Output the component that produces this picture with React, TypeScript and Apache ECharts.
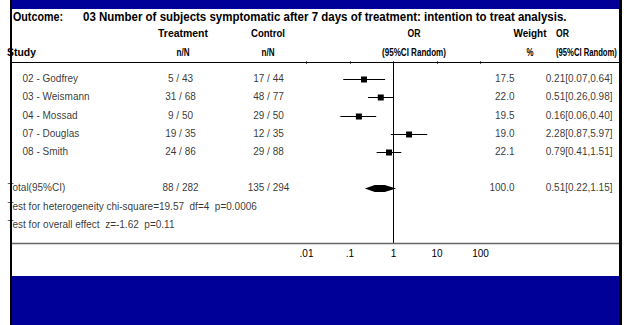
import React, { useEffect, useRef } from "react";
import * as echarts from "echarts";

const outcomeLabel = "Outcome:";
const outcomeTitle = "03 Number of subjects symptomatic after 7 days of treatment: intention to treat analysis.";
const studies = ["02 - Godfrey", "03 - Weismann", "04 - Mossad", "07 - Douglas", "08 - Smith"];
const treatEvents = [5, 31, 9, 19, 24];
const treatTotals = [43, 68, 50, 35, 86];
const ctrlEvents = [17, 48, 29, 12, 29];
const ctrlTotals = [44, 77, 50, 35, 88];
const weights = [17.5, 22.0, 19.5, 19.0, 22.1];
const oddsRatios = [0.21, 0.51, 0.16, 2.28, 0.79];
const ciLow = [0.07, 0.26, 0.06, 0.87, 0.41];
const ciHigh = [0.64, 0.98, 0.4, 5.97, 1.51];
const totalLabel = "Total(95%CI)";
const totalTreat = [88, 282];
const totalCtrl = [135, 294];
const totalWeight = 100.0;
const totalOR = [0.51, 0.22, 1.15];
const testLines = [
  "Test for heterogeneity chi-square=19.57  df=4  p=0.0006",
  "Test for overall effect  z=-1.62  p=0.11",
];
const tickLabels = [".01", ".1", "1", "10", "100"];

const FONT = "'Liberation Sans', Arial, sans-serif";
const BLUE = "#000099";

const fmtOR = (o: number, l: number, h: number) => `${o.toFixed(2)}[${l.toFixed(2)},${h.toFixed(2)}]`;

let measureCtx: CanvasRenderingContext2D | null = null;
function fitScale(text: string, size: number, target: number) {
  if (!measureCtx) measureCtx = document.createElement("canvas").getContext("2d");
  if (!measureCtx) return 1;
  measureCtx.font = `bold ${size}px 'Liberation Sans', Arial, sans-serif`;
  const w = measureCtx.measureText(text).width;
  return w > 0 ? target / w : 1;
}

export default function App() {
  const ref = useRef<HTMLDivElement>(null);
  useEffect(() => {
    if (!ref.current) return;
    const chart = echarts.init(ref.current, undefined, { renderer: "svg" });
    const rows = studies.map((_, i) => i + 1);
    const totalRow = 7;
    const testRows = [8, 9];

    const textSeries = (x: number, align: string, items: { name: string; row: number }[]) => ({
      type: "scatter",
      xAxisIndex: 1,
      yAxisIndex: 1,
      silent: true,
      symbolSize: 1,
      itemStyle: { color: "rgba(0,0,0,0)" },
      data: items.map((it) => ({ name: it.name, value: [x, it.row] })),
      label: {
        show: true,
        position: [0, 0],
        align,
        verticalAlign: "middle",
        formatter: (p: any) => p.name,
        color: "#000",
        fontSize: 10,
        fontFamily: FONT,
      },
    });

    // header text, horizontally squeezed to the reference's width
    const hdr = (text: string, x: number, y: number, align: string, width: number, size = 11) => ({
      type: "text",
      x,
      y,
      z: 10,
      scaleX: fitScale(text, size, width),
      style: {
        text,
        align,
        verticalAlign: "middle",
        fontSize: size,
        fontWeight: "bold",
        fontFamily: FONT,
        fill: "#000",
      },
    });

    chart.setOption({
      animation: false,
      backgroundColor: "#fff",
      grid: [
        { left: 306.5, width: 174, top: 61, height: 182 },
        { left: 0, right: 0, top: 61, height: 182 },
      ],
      xAxis: [
        {
          type: "log",
          gridIndex: 0,
          logBase: 10,
          min: 0.01,
          max: 100,
          axisLine: { show: false },
          axisTick: { show: true, length: 3, lineStyle: { color: "#666" } },
          splitLine: { show: false },
          axisLabel: {
            margin: 5,
            color: "#000",
            fontSize: 10,
            fontFamily: FONT,
            formatter: (v: number) => tickLabels[Math.round(Math.log10(v)) + 2] ?? "",
          },
        },
        { type: "value", gridIndex: 1, min: 0, max: 627, show: false },
      ],
      yAxis: [
        { type: "value", gridIndex: 0, min: 0, max: 10, inverse: true, show: false },
        { type: "value", gridIndex: 1, min: 0, max: 10, inverse: true, show: false },
      ],
      series: [
        {
          type: "custom",
          xAxisIndex: 0,
          yAxisIndex: 0,
          silent: true,
          clip: false,
          encode: { x: [0, 2, 3], y: 1 },
          data: oddsRatios.map((o, i) => [o, rows[i], ciLow[i], ciHigh[i]]),
          renderItem: (params: any, api: any) => {
            const y = api.value(1);
            const c = api.coord([api.value(0), y]);
            const l = api.coord([api.value(2), y]);
            const h = api.coord([api.value(3), y]);
            const yy = Math.round(c[1]) + 0.5;
            return {
              type: "group",
              children: [
                { type: "line", shape: { x1: l[0], y1: yy, x2: h[0], y2: yy }, style: { stroke: "#000", lineWidth: 1 } },
                { type: "rect", shape: { x: c[0] - 3, y: yy - 3, width: 6, height: 6 }, style: { fill: "#000" } },
              ],
            };
          },
          markLine: {
            silent: true,
            symbol: "none",
            label: { show: false },
            lineStyle: { color: "#000", width: 1, type: "solid" },
            data: [[{ coord: [1, 0.1] }, { coord: [1, 10] }]],
          },
        },
        {
          type: "custom",
          xAxisIndex: 0,
          yAxisIndex: 0,
          silent: true,
          encode: { x: [0, 2, 3], y: 1 },
          data: [[totalOR[0], totalRow, totalOR[1], totalOR[2]]],
          renderItem: (params: any, api: any) => {
            const y = api.value(1);
            const c = api.coord([api.value(0), y]);
            const l = api.coord([api.value(2), y]);
            const h = api.coord([api.value(3), y]);
            return {
              type: "polygon",
              shape: {
                points: [
                  [l[0], c[1]],
                  [c[0] - 6, c[1] - 3.5],
                  [c[0] + 4, c[1] - 3.5],
                  [h[0], c[1]],
                  [c[0] + 4, c[1] + 3.5],
                  [c[0] - 6, c[1] + 3.5],
                ],
              },
              style: { fill: "#000" },
            };
          },
        },
        textSeries(23, "left", studies.map((s, i) => ({ name: s, row: rows[i] }))),
        textSeries(8, "left", [
          { name: totalLabel, row: totalRow },
          ...testLines.map((t, i) => ({ name: t, row: testRows[i] })),
        ]),
        textSeries(181, "center", [
          ...treatEvents.map((e, i) => ({ name: `${e} / ${treatTotals[i]}`, row: rows[i] })),
          { name: `${totalTreat[0]} / ${totalTreat[1]}`, row: totalRow },
        ]),
        textSeries(269, "center", [
          ...ctrlEvents.map((e, i) => ({ name: `${e} / ${ctrlTotals[i]}`, row: rows[i] })),
          { name: `${totalCtrl[0]} / ${totalCtrl[1]}`, row: totalRow },
        ]),
        textSeries(515, "right", [
          ...weights.map((w, i) => ({ name: w.toFixed(1), row: rows[i] })),
          { name: totalWeight.toFixed(1), row: totalRow },
        ]),
        textSeries(613, "right", [
          ...oddsRatios.map((o, i) => ({ name: fmtOR(o, ciLow[i], ciHigh[i]), row: rows[i] })),
          { name: fmtOR(totalOR[0], totalOR[1], totalOR[2]), row: totalRow },
        ]),
      ],
      graphic: [
        { type: "rect", z: 50, shape: { x: 12, y: 0, width: 607, height: 9 }, style: { fill: BLUE } },
        { type: "rect", z: 50, shape: { x: 12, y: 276, width: 607, height: 49 }, style: { fill: BLUE } },
        { type: "rect", z: 100, shape: { x: 10, y: 0, width: 2, height: 325 }, style: { fill: "#000" } },
        { type: "rect", z: 100, shape: { x: 619, y: 0, width: 3, height: 325 }, style: { fill: "#000" } },
        { type: "line", z: 40, shape: { x1: 12, y1: 62.5, x2: 619, y2: 62.5 }, style: { stroke: "#000", lineWidth: 1 } },
        { type: "line", z: 40, shape: { x1: 12, y1: 243.5, x2: 619, y2: 243.5 }, style: { stroke: "#666", lineWidth: 1.5 } },
        hdr(outcomeLabel, 13, 17, "left", 50, 13.5),
        hdr(outcomeTitle, 83, 17, "left", 484, 13.5),
        hdr("Treatment", 183, 33, "center", 50),
        hdr("Control", 268, 33, "center", 34),
        hdr("OR", 414, 33, "center", 13),
        hdr("Weight", 530, 33, "center", 33),
        hdr("OR", 556, 33, "left", 13),
        hdr("Study", 7, 52, "left", 29),
        hdr("n/N", 183, 52, "center", 13),
        hdr("n/N", 268, 52, "center", 13),
        hdr("(95%CI Random)", 414, 52, "center", 64),
        hdr("%", 530, 52, "center", 7),
        hdr("(95%CI Random)", 556, 52, "left", 61),
      ],
    });
    return () => chart.dispose();
  }, []);
  return (
    <div
      ref={ref}
      style={{ position: "absolute", left: 0, top: 0, width: 627, height: 325 }}
    />
  );
}
